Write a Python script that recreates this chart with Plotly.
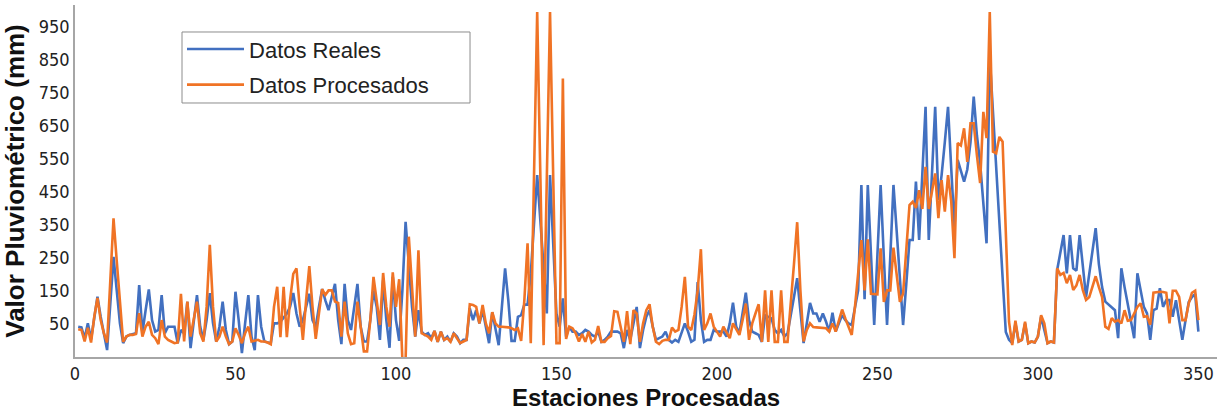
import plotly.graph_objects as go

estaciones = list(range(1, 351))

datos_reales = [
    40, 38, 5, 50, 2, 60, 131, 70, 20, -31,
    110, 252, 150, 50, -10, 10, 15, 18, 20, 166,
    22, 90, 153, 60, 25, 30, 136, 20, 40, 40,
    40, -10, 30, 20, 115, -25, 60, 136, 40, 0,
    60, 142, 50, -5, 40, 116, 30, -13, -5, 146,
    60, -40, 50, 136, 10, -31, 136, 40, -5, -8,
    -10, 50, 50, 55, 66, 80, 100, 142, 80, 40,
    60, 100, 140, 60, 40, 100, 154, 120, 90, 130,
    170, 60, -13, 170, 60, 30, 100, 170, 40, -5,
    -5, 60, 150, 100, 0, 181, 60, -24, 191, 60,
    -3, 150, 358, 220, 100, 10, 90, 25, 15, 20,
    5, 27, -6, 25, 0, 10, -6, 20, 10, -10,
    0, 0, 96, 60, 90, 50, 90, 40, -10, 84,
    30, -16, 100, 217, 120, -3, -3, 70, 75, 107,
    107, 200, 350, 500, 360, 220, 80, 500, 300, 80,
    40, 126, 10, 40, 25, 25, 15, 20, 30, 25,
    15, 10, 25, -6, 0, 10, 25, 25, 25, 20,
    -25, 30, 0, 50, 100, -25, 30, 70, 90, 40,
    0, 5, 10, 25, 0, -8, 0, -6, 25, 50,
    25, -6, 0, 175, 60, -6, 0, 0, 30, 25,
    25, 25, 10, 50, 113, 40, 20, 80, 143, 60,
    25, 20, 15, -6, 75, 70, 65, 30, 20, 30,
    10, 20, 70, 130, 187, 80, -10, 50, 112, 80,
    80, 55, 80, 55, 25, 82, 25, 50, 75, 60,
    50, 45, 100, 150, 470, 123, 470, 258, 45, 258,
    470, 250, 45, 250, 470, 330, 190, 45, 170, 303,
    303, 480, 303, 500, 707, 303, 500, 707, 424, 500,
    600, 707, 520, 339, 546, 510, 480, 517, 600, 738,
    620, 536, 400, 293, 859, 700, 520, 350, 190, 24,
    0, -10, 50, -5, 0, 50, -10, -5, -8, 10,
    70, 30, -10, -5, -8, 212, 260, 318, 202, 318,
    217, 210, 318, 220, 130, 200, 270, 339, 230, 160,
    116, 108, 100, 90, 5, 217, 160, 110, 60, 5,
    202, 150, 100, 80, 0, 90, 95, 157, 100, 121,
    121, 70, 120, 60, 0, 60, 115, 130, 139, 25,
]

datos_procesados = [
    32, 30, -5, 37, -8, 70, 127, 60, 20, -8,
    180, 369, 240, 110, -6, 10, 15, 15, 18, 81,
    10, 40, 55, 15, 5, -13, 60, 10, 0, -5,
    -10, -8, 140, -5, 116, 10, 60, 116, 20, -5,
    100, 288, 100, -5, 10, 40, 10, -13, -5, 35,
    15, -10, 20, 40, -5, -3, 0, -5, -5, -8,
    -13, 100, 161, 8, 161, 8, 120, 200, 217, 100,
    0, 120, 224, 100, 3, 80, 154, 136, 150, 150,
    116, 112, 10, 116, 20, -13, -10, 116, 40, -35,
    -35, 60, 191, 120, 45, 203, 100, 40, 205, 100,
    184, -61, -61, 313, 150, 10, 272, 20, 15, 10,
    0, 27, -6, 25, 0, 5, -6, 20, 5, -10,
    -5, 0, 108, 106, 100, 50, 106, 50, 20, 84,
    50, 40, 40, 40, 38, 35, 30, 35, -3, 120,
    293, -10, 490, 995, 490, -16, 490, 995, 490, -10,
    -10, 793, 3, 40, 35, 20, -5, 18, -6, 25,
    -8, 0, 42, -6, -6, 5, 12, 87, 85, 40,
    -6, 87, -13, 90, 80, -6, 50, 90, 108, 40,
    -6, -13, -3, 0, 0, 37, 25, 30, 100, 191,
    40, 30, 77, 150, 275, 30, 50, 80, 40, 25,
    10, 40, 20, 5, 50, 30, 15, 60, 110, 0,
    50, 80, 108, -6, 150, -6, 150, -6, -6, 150,
    -6, -6, 100, 230, 357, 150, -5, 30, 50, 39,
    38, 37, 36, 35, 25, 50, 25, 60, 92, 65,
    40, 15, 100, 200, 303, 150, 305, 140, 140, 138,
    278, 115, 150, 150, 280, 200, 115, 140, 280, 409,
    419, 400, 454, 397, 525, 397, 450, 505, 369, 485,
    389, 500, 420, 248, 597, 590, 642, 540, 657, 657,
    560, 476, 692, 612, 995, 571, 566, 616, 601, 300,
    55, -16, 58, -5, 0, 55, -10, -5, -8, 10,
    75, 50, -10, -5, -8, 217, 197, 203, 172, 197,
    151, 165, 197, 151, 121, 130, 160, 193, 160, 130,
    40, 33, 66, 55, 60, 50, 90, 58, 60, 81,
    100, 111, 70, 72, 46, 143, 145, 146, 145, 143,
    50, 149, 149, 130, 60, 60, 111, 143, 149, 60,
]

y_ticks = [50, 150, 250, 350, 450, 550, 650, 750, 850, 950]
x_ticks = [0, 50, 100, 150, 200, 250, 300, 350]

FONT = "Arial, 'Liberation Sans', Helvetica, sans-serif"
TICKFONT = "'Liberation Sans Narrow', 'Arial Narrow', 'DejaVu Sans Condensed', Arial, sans-serif"

fig = go.Figure()
fig.add_trace(go.Scatter(
    x=estaciones, y=datos_reales, mode="lines", name="Datos Reales",
    line=dict(color="#4270C0", width=2.6), legendgroup="a",
))
fig.add_trace(go.Scatter(
    x=estaciones, y=datos_procesados, mode="lines", name="Datos Procesados",
    line=dict(color="#F07325", width=2.6), legendgroup="b",
))

# legend frame (drawn as a rectangle so its width matches the original)
fig.add_shape(
    type="rect", xref="paper", yref="paper",
    x0=0.0937, x1=0.3459, y0=0.7216, y1=0.9233,
    line=dict(color="#8c8c8c", width=1), fillcolor="rgba(0,0,0,0)", layer="above",
)

fig.update_layout(
    width=1228, height=413,
    margin=dict(l=75, r=11, t=5, b=56),
    paper_bgcolor="white", plot_bgcolor="white",
    font=dict(family=FONT, color="#222222"),
    showlegend=True,
    legend=dict(
        x=0.0937, y=0.934, xanchor="left", yanchor="top",
        borderwidth=0, bgcolor="rgba(255,255,255,0)",
        font=dict(size=22, family=FONT, color="#222222"),
        tracegroupgap=4, itemwidth=57,
    ),
)
fig.update_xaxes(
    range=[0, 355.8], tickvals=x_ticks, ticktext=[str(v) for v in x_ticks],
    showgrid=False, zeroline=False, showline=True, linecolor="#a6a6a6", linewidth=1.5,
    ticks="", tickfont=dict(size=18, family=TICKFONT, color="#222222"),
    automargin=False,
    title=dict(text="<b>Estaciones Procesadas</b>", font=dict(size=24, family=FONT, color="#111111"), standoff=6),
)
fig.update_yaxes(
    range=[-52, 1016], tickvals=y_ticks, ticktext=[str(v) for v in y_ticks],
    showgrid=False, zeroline=False, showline=True, linecolor="#a6a6a6", linewidth=1.5,
    ticks="", tickfont=dict(size=18, family=TICKFONT, color="#222222"),
    automargin=False,
    title=dict(text="<b>Valor Pluviométrico (mm)</b>", font=dict(size=26, family=FONT, color="#111111"), standoff=8),
)

fig.write_html(
    "out.html",
    config={"displayModeBar": False},
    post_script="document.body.style.margin='0';document.body.style.padding='0';",
)
